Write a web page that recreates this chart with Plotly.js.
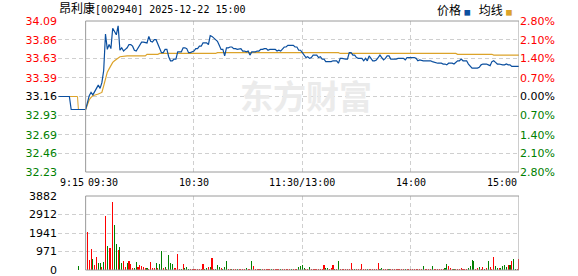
<!DOCTYPE html>
<html>
<head>
<meta charset="utf-8">
<script src="https://cdn.plot.ly/plotly-3.0.1.min.js"></script>
<style>html,body{margin:0;padding:0;background:#fff;}#chart{width:578px;height:276px;}</style>
</head>
<body>
<div id="chart"></div>
<script>
// ---------- data ----------
const stockName = '昂利康';
const stockCode = '002940';
const stamp = '2025-12-22 15:00';
const prevClose = 33.16;

// call auction (minutes before 09:30)
const preMinutes = [-15, -9, -8, 0];
const prePrice = [33.16, 33.16, 33.00, 33.00];
const preAvgMinutes = [-15, -4.5, -4, 0];
const preAvg = [33.16, 33.16, 33.00, 33.00];
const preVolMinutes = [-4];
const preVolume = [210];
const preVolDir = [-1];

// one value per trading minute, 09:30 .. 15:00 (index 0..240)
const price = [
 33.00,33.08,33.17,33.21,33.18,33.22,33.27,33.30,33.26,33.33,
 33.48,33.93,33.74,33.80,33.75,34.00,33.96,33.92,34.03,33.73,
 33.76,33.72,33.74,33.76,33.80,33.80,33.78,33.73,33.72,33.76,
 33.80,33.83,33.83,33.82,33.82,33.90,33.84,33.83,33.86,33.86,
 33.80,33.75,33.70,33.70,33.74,33.74,33.65,33.60,33.60,33.62,
 33.62,33.71,33.71,33.71,33.76,33.76,33.75,33.70,33.70,33.71,
 33.72,33.75,33.75,33.78,33.78,33.82,33.82,33.82,33.80,33.91,
 33.90,33.88,33.86,33.84,33.79,33.74,33.74,33.66,33.76,33.76,
 33.77,33.77,33.75,33.75,33.74,33.75,33.75,33.72,33.72,33.71,
 33.72,33.67,33.71,33.71,33.71,33.72,33.72,33.74,33.74,33.75,
 33.75,33.73,33.74,33.74,33.74,33.74,33.72,33.73,33.72,33.75,
 33.77,33.77,33.79,33.79,33.79,33.79,33.77,33.77,33.73,33.73,
 33.70,33.67,33.64,33.65,33.63,33.64,33.67,33.67,33.67,33.64,
 33.65,33.62,33.62,33.59,33.59,33.59,33.59,33.60,33.60,33.60,
 33.57,33.63,33.63,33.62,33.62,33.62,33.70,33.70,33.67,33.67,
 33.64,33.63,33.63,33.63,33.60,33.63,33.60,33.66,33.63,33.60,
 33.60,33.61,33.64,33.67,33.64,33.61,33.63,33.66,33.66,33.62,
 33.62,33.62,33.62,33.63,33.63,33.63,33.63,33.61,33.64,33.64,
 33.64,33.64,33.64,33.63,33.60,33.61,33.60,33.60,33.60,33.60,
 33.60,33.60,33.59,33.58,33.58,33.57,33.57,33.57,33.56,33.56,
 33.55,33.57,33.57,33.57,33.56,33.58,33.60,33.60,33.62,33.60,
 33.60,33.60,33.56,33.54,33.51,33.51,33.51,33.51,33.52,33.55,
 33.56,33.56,33.56,33.55,33.54,33.59,33.60,33.58,33.56,33.56,
 33.55,33.55,33.55,33.56,33.55,33.55,33.53,33.53,33.53,33.53,
 33.53
];

// average price line, read at its turning points
const avgMinutes = [0, 1, 2, 3, 4, 7, 9, 10, 11, 12, 13, 15, 16, 17, 19, 23, 33, 34, 40, 41, 72, 73, 140, 141, 205, 206, 225, 226, 240];
const avgPrice   = [33.00, 33.06, 33.12, 33.15, 33.17, 33.19, 33.21, 33.29, 33.38, 33.46, 33.50, 33.58, 33.60, 33.62, 33.65, 33.66, 33.66, 33.68, 33.68, 33.69, 33.69, 33.70, 33.70, 33.69, 33.69, 33.68, 33.68, 33.67, 33.67];

// volume per minute (index 0..240), direction 1 = up (red), -1 = down (green)
const volume = [
 0,2010,525,1100,578,262,665,385,385,140,
 437,2850,1260,1155,1155,3570,2360,1365,1050,1190,
 350,472,175,350,472,315,87,87,420,140,
 262,210,140,122,87,60,420,87,122,367,
 122,315,1015,87,140,60,787,367,315,87,
 87,840,70,70,297,87,175,70,60,50,
 50,60,50,60,50,315,60,87,140,140,
 630,70,60,245,140,87,60,157,472,70,
 60,60,50,60,50,60,50,60,50,87,
 60,50,472,210,70,50,60,50,60,50,
 60,50,50,60,50,60,50,50,60,50,
 60,50,60,50,50,60,50,60,140,210,
 262,87,35,50,140,60,50,60,50,60,
 50,60,262,87,105,50,87,262,52,50,
 472,50,60,50,50,60,50,367,50,60,
 50,50,60,315,50,60,50,50,60,50,
 50,60,367,60,87,50,60,50,50,60,
 50,50,60,50,50,60,50,50,60,50,
 50,60,50,50,60,50,50,210,60,50,
 50,60,192,50,60,50,50,60,50,87,
 315,227,87,50,60,50,50,60,87,50,
 70,50,105,210,525,490,50,87,140,70,
 140,35,87,472,175,50,665,210,105,105,
 87,227,262,140,262,245,472,577,60,60,
 577
];
const volDir = [
 1,1,1,1,-1,1,1,-1,-1,1,
 -1,1,-1,1,1,1,-1,-1,1,-1,
 -1,1,1,-1,1,1,1,-1,-1,1,
 1,1,1,1,-1,1,1,1,1,-1,
 1,-1,-1,1,-1,1,-1,-1,-1,1,
 1,1,1,-1,1,-1,-1,-1,1,1,
 1,1,1,1,1,1,-1,-1,1,-1,
 1,1,-1,-1,-1,1,-1,-1,-1,1,
 1,-1,1,1,-1,1,1,1,1,-1,
 1,1,-1,1,1,1,1,-1,1,1,
 1,1,1,-1,1,1,1,1,-1,1,
 1,1,1,1,-1,1,1,1,-1,-1,
 -1,-1,1,1,-1,1,1,1,1,1,
 1,1,1,-1,-1,1,1,1,-1,1,
 -1,1,1,1,1,1,1,1,1,-1,
 1,1,1,1,1,1,-1,1,1,1,
 1,1,1,-1,-1,1,1,1,-1,1,
 1,1,1,1,1,1,1,-1,1,1,
 1,1,1,1,1,1,1,-1,1,1,
 1,1,-1,1,1,1,1,1,1,-1,
 -1,1,1,1,-1,1,1,1,1,1,
 1,1,-1,-1,-1,-1,1,1,-1,1,
 1,-1,1,-1,1,1,1,-1,-1,1,
 -1,-1,-1,-1,1,-1,1,-1,-1,1,
 1
];

// axis labels
const priceTicks = ['34.09','33.86','33.63','33.39','33.16','32.93','32.69','32.46','32.23'];
const pctTicks   = ['2.80%','2.10%','1.40%','0.70%','0.00%','0.70%','1.40%','2.10%','2.80%'];
const volTicks   = ['3882','2912','1941','971','0'];
const timeLabels = ['9:15','09:30','10:30','11:30/13:00','14:00','15:00'];
const timeMinutes = [-15.3, 0, 60, 120, 180, 240];
const legendNames = ['价格','均线'];
const watermark = '东方财富';

// ---------- drawing ----------
const RED = '#ff0000', GREEN = '#008000', BLACK = '#000000';
const BLUE = '#0b4f9f', GOLD = '#dca32a';
const GRID = '#cfcfcf', FRAME = '#9a9a9a';
const minutes = price.map((_, i) => i);
const priceVals = priceTicks.map(Number);
const tickColor = v => v > prevClose + 1e-9 ? RED : (v < prevClose - 1e-9 ? GREEN : BLACK);
const colored = (txt, c) => '<span style="color:' + c + '">' + txt + '</span>';
const volColor = d => d > 0 ? RED : GREEN;
const XR = [-15.3, 240];
const YR = [priceVals[priceVals.length - 1], priceVals[0]];

const traces = [
  {x: preAvgMinutes, y: preAvg, type: 'scatter', mode: 'lines', line: {color: GOLD, width: 1}, xaxis: 'x', yaxis: 'y', hoverinfo: 'skip'},
  {x: avgMinutes, y: avgPrice, type: 'scatter', mode: 'lines', line: {color: GOLD, width: 1.2}, xaxis: 'x', yaxis: 'y', hoverinfo: 'skip'},
  {x: preMinutes, y: prePrice, type: 'scatter', mode: 'lines', line: {color: BLUE, width: 1.2}, xaxis: 'x', yaxis: 'y2', hoverinfo: 'skip'},
  {x: minutes, y: price, type: 'scatter', mode: 'lines', line: {color: BLUE, width: 1.2}, xaxis: 'x', yaxis: 'y2', hoverinfo: 'skip'},
  {x: preVolMinutes, y: preVolume, type: 'bar', width: 0.6, marker: {color: preVolDir.map(volColor), line: {width: 0}}, xaxis: 'x2', yaxis: 'y3', hoverinfo: 'skip'},
  {x: minutes, y: volume, type: 'bar', width: 0.6, marker: {color: volDir.map(volColor), line: {width: 0}}, xaxis: 'x2', yaxis: 'y3', hoverinfo: 'skip'}
];

const tickFont = {family: 'DejaVu Sans, sans-serif', size: 11, color: BLACK};
const gridX = [XR[0], 60, 120, 180];

const anchors = timeLabels.map((_, i) => i < 2 ? 'left' : (i === timeLabels.length - 1 ? 'right' : 'center'));
const annotations = timeLabels.map((t, i) => ({
  text: t, x: timeMinutes[i], xref: 'x', y: (270 - 182) / 249, yref: 'paper', xanchor: anchors[i], yanchor: 'middle',
  showarrow: false, font: {family: 'DejaVu Sans Mono, monospace', size: 10, color: BLACK}
}));

annotations.push({
  text: legendNames[0] + ' <span style="color:' + BLUE + ';font-size:7px">■</span>   ' + legendNames[1] + ' <span style="color:' + GOLD + ';font-size:7px">■</span>',
  xref: 'paper', yref: 'paper', x: (514 - 58) / 461, y: (270 - 10) / 249, xanchor: 'right', yanchor: 'middle',
  showarrow: false, font: {family: 'Noto Sans CJK SC, sans-serif', size: 12, color: BLACK}
});
annotations.push({
  text: '<b>' + watermark + '</b>', xref: 'x', yref: 'y2', x: 122, y: prevClose + 0.02, xanchor: 'center', yanchor: 'middle',
  showarrow: false, font: {family: 'Noto Sans CJK SC, sans-serif', size: 33, color: '#ebebeb'}
});

const layout = {
  width: 578, height: 276,
  margin: {l: 58, r: 59, t: 21, b: 6, pad: 0},
  paper_bgcolor: '#ffffff', plot_bgcolor: '#ffffff',
  showlegend: false,
  bargap: 0,
  title: {
    text: '<span style="font-size:12px">' + stockName + '</span>[' + stockCode + '] ' + stamp,
    x: 59 / 578, xref: 'container', xanchor: 'left', y: 1 - 9 / 276, yanchor: 'middle',
    font: {family: 'DejaVu Sans Mono, Noto Sans CJK SC, monospace', size: 10, color: BLACK}
  },
  xaxis: {domain: [0, 1], range: XR, anchor: 'y', showticklabels: false, tickvals: gridX, ticks: '',
          showgrid: true, gridcolor: GRID, griddash: '4px,3px', gridwidth: 1, zeroline: false, showline: false, fixedrange: true},
  xaxis2: {domain: [0, 1], range: XR, anchor: 'y3', showticklabels: false, tickvals: gridX, ticks: '',
           showgrid: true, gridcolor: GRID, griddash: '4px,3px', gridwidth: 1, zeroline: false, showline: false, fixedrange: true},
  yaxis: {domain: [(270 - 172) / 249, 1], range: YR, side: 'left', tickvals: priceVals,
          ticktext: priceTicks.map((t, i) => colored(t, tickColor(priceVals[i]))),
          tickfont: tickFont, ticks: '', ticklabeloverflow: 'allow', showgrid: true, gridcolor: GRID, griddash: '4px,3px', gridwidth: 1,
          zeroline: false, showline: false, fixedrange: true},
  yaxis2: {overlaying: 'y', range: YR, side: 'right', tickvals: priceVals,
           ticktext: pctTicks.map((t, i) => colored(t, tickColor(priceVals[i]))),
           tickfont: tickFont, ticks: '', ticklabeloverflow: 'allow', showgrid: false, zeroline: false, showline: false, fixedrange: true},
  yaxis3: {domain: [0, (270 - 196) / 249], range: [0, Number(volTicks[0])], side: 'left', tickvals: volTicks.map(Number), ticktext: volTicks,
           tickfont: tickFont, ticks: '', ticklabeloverflow: 'allow', showgrid: true, gridcolor: GRID, griddash: '4px,3px', gridwidth: 1,
           zeroline: false, showline: false, fixedrange: true},
  shapes: [
    {type: 'rect', xref: 'x', yref: 'y domain', x0: 0, x1: XR[1], y0: 0, y1: 1, line: {color: FRAME, width: 1}, layer: 'above'},
    {type: 'rect', xref: 'x2', yref: 'y3 domain', x0: 0, x1: XR[1], y0: 0, y1: 1, line: {color: FRAME, width: 1}, layer: 'above'}
  ],
  annotations: annotations
};

Plotly.newPlot('chart', traces, layout, {displayModeBar: false, staticPlot: true});
</script>
</body>
</html>
